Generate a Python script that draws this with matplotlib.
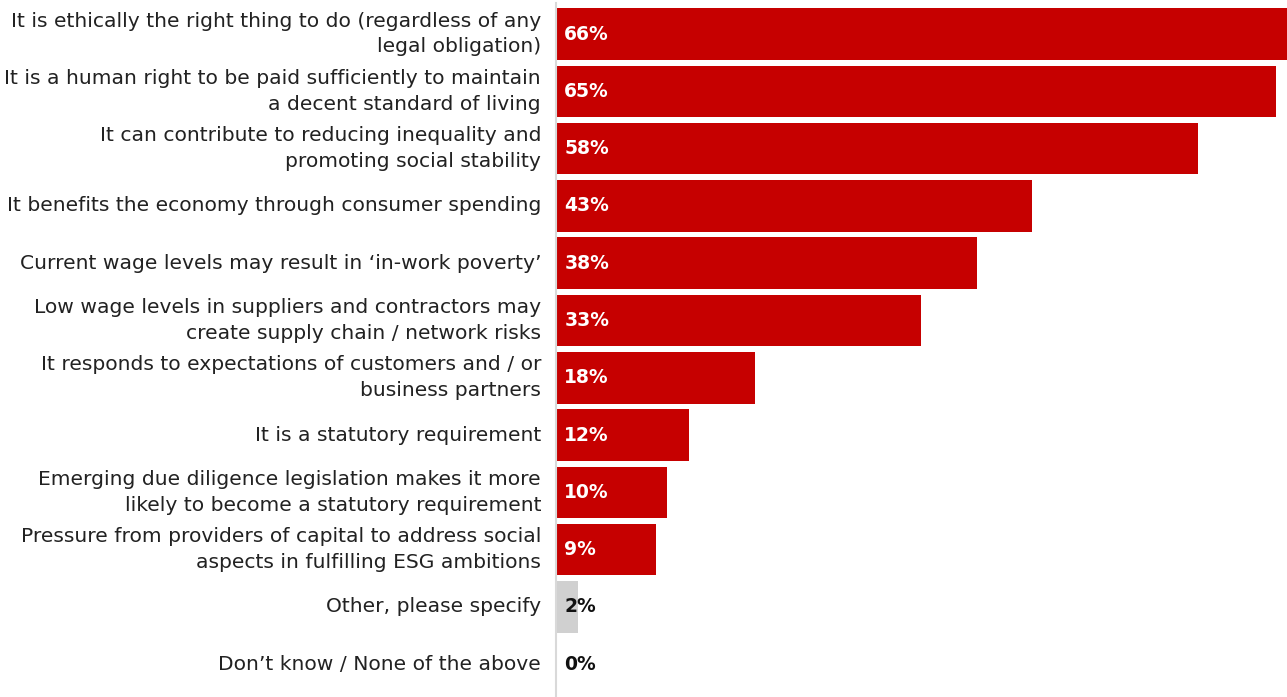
import matplotlib.pyplot as plt

# Reasons for paying a living wage (share of respondents, %)
reasons = [
    "It is ethically the right thing to do (regardless of any\nlegal obligation)",
    "It is a human right to be paid sufficiently to maintain\na decent standard of living",
    "It can contribute to reducing inequality and\npromoting social stability",
    "It benefits the economy through consumer spending",
    "Current wage levels may result in \u2018in-work poverty\u2019",
    "Low wage levels in suppliers and contractors may\ncreate supply chain / network risks",
    "It responds to expectations of customers and / or\nbusiness partners",
    "It is a statutory requirement",
    "Emerging due diligence legislation makes it more\nlikely to become a statutory requirement",
    "Pressure from providers of capital to address social\naspects in fulfilling ESG ambitions",
    "Other, please specify",
    "Don\u2019t know / None of the above",
]
shares = [66, 65, 58, 43, 38, 33, 18, 12, 10, 9, 2, 0]
highlight = [True] * 10 + [False, False]

RED = "#C60000"
GREY = "#D0D0D0"

plt.rcParams["font.family"] = ["DejaVu Sans"]

fig = plt.figure(figsize=(12.87, 6.97), dpi=100)
ax = fig.add_axes([0.432, 0.006, 0.568, 0.9863])

ypos = list(range(len(reasons)))
colors = [RED if h else GREY for h in highlight]
ax.barh(ypos, shares, height=0.9, color=colors, edgecolor="none")

for y, v, h in zip(ypos, shares, highlight):
    ax.text(0.75, y, f"{v}%", va="center", ha="left", fontsize=13.5,
            fontweight="bold", color="white" if h else "#111111")

for y, lab in zip(ypos, reasons):
    ax.text(-1.35, y, lab, va="center", ha="right", fontsize=14.6,
            color="#222222", linespacing=1.45)

ax.set_xlim(0, 66)
ax.set_ylim(len(reasons) - 0.5, -0.5)
ax.set_xticks([])
ax.set_yticks([])
for side in ["top", "right", "bottom"]:
    ax.spines[side].set_visible(False)
ax.spines["left"].set_color("#D9D9D9")
ax.spines["left"].set_linewidth(1.5)
ax.spines["left"].set_bounds(-0.55, 11.6)

fig.savefig("out.png", dpi=100)
